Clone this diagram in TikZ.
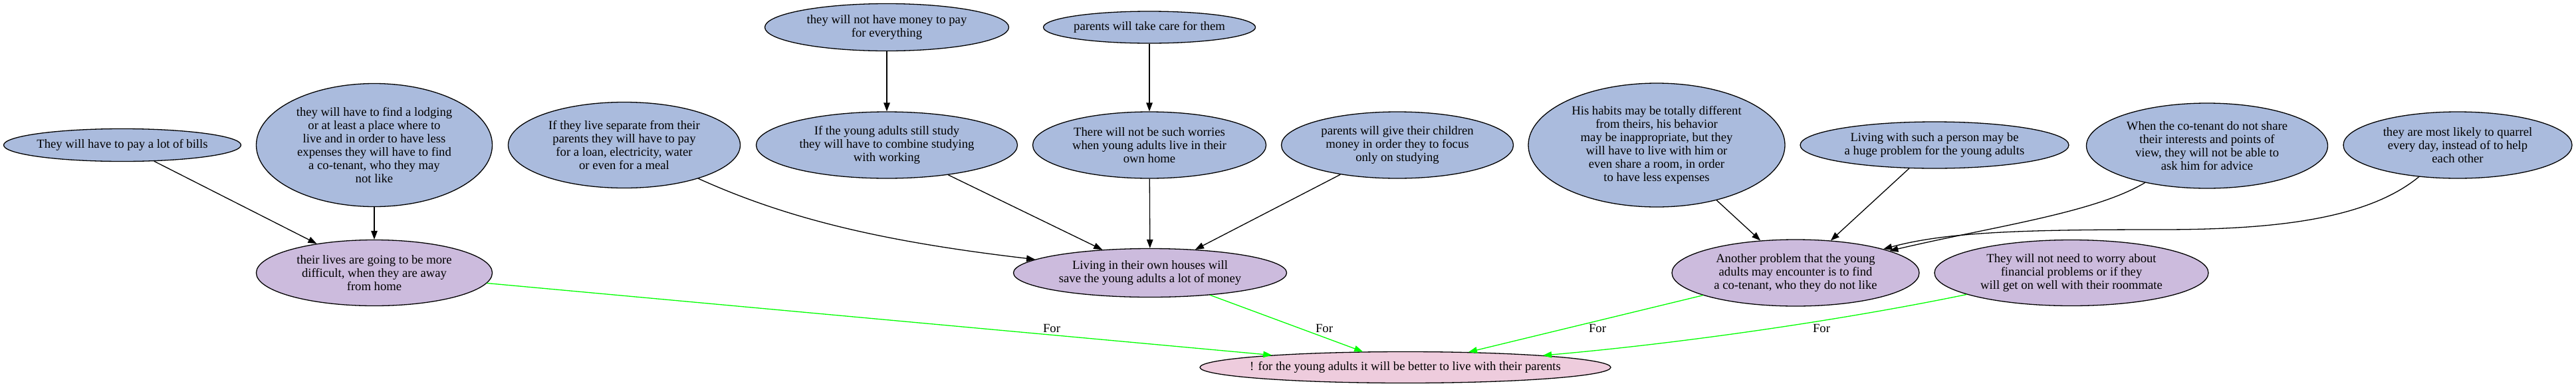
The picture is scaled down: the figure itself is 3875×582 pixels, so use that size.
\documentclass[tikz,border=0pt]{standalone}
\usepackage{fontspec}
\setmainfont{Liberation Serif}
\usetikzlibrary{arrows.meta,shapes.geometric}
\definecolor{nodeblue}{HTML}{AABBDD}
\definecolor{nodepurple}{HTML}{CCBBDD}
\definecolor{nodepink}{HTML}{EECCDD}
\definecolor{forgreen}{HTML}{00FF00}
\begin{document}
\begin{tikzpicture}[x=1pt,y=-1pt,
  ell/.style={ellipse,draw=black,line width=1.3pt,inner sep=0pt},
  bnode/.style={ell,fill=nodeblue},
  pnode/.style={ell,fill=nodepurple},
  rnode/.style={ell,fill=nodepink},
  txt/.style={align=center,inner sep=0pt,font=\fontsize{18.67}{20}\selectfont},
  edge/.style={line width=1.3pt,draw=black,-{Triangle[length=13pt,width=9.5pt]}},
  foredge/.style={line width=1.3pt,draw=forgreen,-{Triangle[length=13pt,width=9.5pt,fill=forgreen]}}
]
\fill[white] (0,0) rectangle (3875,582);
\useasboundingbox (0,0) rectangle (3875,582);

% rank 1
\node[bnode,minimum width=367pt,minimum height=71pt] (money) at (1334,41) {};
\node[txt] (moneyT) at (money.center) {they will not have money to pay\\for everything};
\node[bnode,minimum width=319pt,minimum height=48pt] (takecare) at (1729,41) {};
\node[txt] (takecareT) at (takecare.center) {parents will take care for them};

% rank 2
\node[bnode,minimum width=357pt,minimum height=49pt] (bills) at (184,218) {};
\node[txt] (billsT) at (bills.center) {They will have to pay a lot of bills};
\node[bnode,minimum width=355pt,minimum height=185pt] (lodging) at (563,218) {};
\node[txt] (lodgingT) at (lodging.center) {they will have to find a lodging\\or at least a place where to\\live and in order to have less\\expenses they will have to find\\a co-tenant, who they may\\not like};
\node[bnode,minimum width=349pt,minimum height=129pt] (separate) at (939,218) {};
\node[txt] (separateT) at (separate.center) {If they live separate from their\\parents they will have to pay\\for a loan, electricity, water\\or even for a meal};
\node[bnode,minimum width=393pt,minimum height=100pt] (study) at (1334,218) {};
\node[txt] (studyT) at (study.center) {If the young adults still study\\they will have to combine studying\\with working};
\node[bnode,minimum width=351pt,minimum height=100pt] (worries) at (1729,218) {};
\node[txt] (worriesT) at (worries.center) {There will not be such worries\\when young adults live in their\\own home};
\node[bnode,minimum width=349pt,minimum height=100pt] (give) at (2102,218) {};
\node[txt] (giveT) at (give.center) {parents will give their children\\money in order they to focus\\only on studying};
\node[bnode,minimum width=386pt,minimum height=186pt] (habits) at (2492,218) {};
\node[txt] (habitsT) at (habits.center) {His habits may be totally different\\from theirs, his behavior\\may be inappropriate, but they\\will have to live with him or\\even share a room, in order\\to have less expenses};
\node[bnode,minimum width=404pt,minimum height=70pt] (such) at (2910,218) {};
\node[txt] (suchT) at (such.center) {Living with such a person may be\\a huge problem for the young adults};
\node[bnode,minimum width=363pt,minimum height=128pt] (cotenant) at (3320,219) {};
\node[txt] (cotenantT) at (cotenant.center) {When the co-tenant do not share\\their interests and points of\\view, they will not be able to\\ask him for advice};
\node[bnode,minimum width=344pt,minimum height=100pt] (quarrel) at (3697,218) {};
\node[txt] (quarrelT) at (quarrel.center) {they are most likely to quarrel\\every day, instead of to help\\each other};

% rank 3
\node[pnode,minimum width=355pt,minimum height=99pt] (lives) at (563,410) {};
\node[txt] (livesT) at (lives.center) {their lives are going to be more\\difficult, when they are away\\from home};
\node[pnode,minimum width=411pt,minimum height=73pt] (living) at (1730,410) {};
\node[txt] (livingT) at (living.center) {Living in their own houses will\\save the young adults a lot of money};
\node[pnode,minimum width=372pt,minimum height=100pt] (another) at (2701,410) {};
\node[txt] (anotherT) at (another.center) {Another problem that the young\\adults may encounter is to find\\a co-tenant, who they do not like};
\node[pnode,minimum width=412pt,minimum height=99pt] (needworry) at (3116,410) {};
\node[txt] (needworryT) at (needworry.center) {They will not need to worry about\\financial problems or if they\\will get on well with their roommate};

% rank 4
\node[rnode,minimum width=618pt,minimum height=47pt] (bottom) at (2114,552) {};
\node[txt] (bottomT) at (bottom.center) {! for the young adults it will be better to live with their parents};

% black edges
\draw[edge] (money) -- (study);
\draw[edge] (takecare) -- (worries);
\draw[edge] (bills) -- (lives);
\draw[edge] (lodging) -- (lives);
\draw[edge] (separate) .. controls (1185,329) and (1328,363) .. (living);
\draw[edge] (study) -- (living);
\draw[edge] (worries) -- (living);
\draw[edge] (give) -- (living);
\draw[edge] (habits) -- (another);
\draw[edge] (such) -- (another);
\draw[edge] (cotenant) .. controls (3150,320) and (3000,340) .. (another);
\coordinate (qmid) at (3250,345);
\draw[line width=1.3pt] (quarrel) .. controls (3560,330) and (3420,345) .. (qmid);
\draw[edge] (qmid) .. controls (3050,345) and (2930,348) .. (another);

% green edges
\draw[foredge] (lives) -- (bottom);
\draw[foredge] (living) -- (bottom);
\draw[foredge] (another) -- (bottom);
\draw[foredge] (needworry) .. controls (2771,481) and (2529,516) .. (bottom);

% labels
\node[txt] (for1) at (1582,493) {For};
\node[txt] (for2) at (1992,493) {For};
\node[txt] (for3) at (2403,493) {For};
\node[txt] (for4) at (2740,493) {For};
\end{tikzpicture}
\end{document}
